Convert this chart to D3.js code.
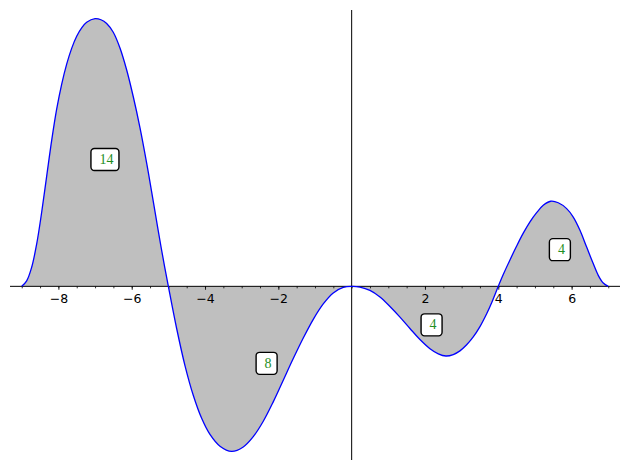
<!DOCTYPE html>
<html><head><meta charset="utf-8">
<script src="https://cdn.jsdelivr.net/npm/d3@7"></script>
<style>body{margin:0;background:#fff}</style>
</head><body>
<svg id="c" width="630" height="470"></svg>
<script>
// curve samples
const xs = [-9.00,-8.865,-8.729,-8.593,-8.456,-8.320,-8.183,-8.047,-7.911,-7.774,-7.638,-7.501,-7.365,-7.229,-7.00,
  -6.839,-6.683,-6.503,-6.320,-6.137,-5.957,-5.775,-5.592,-5.428,-5.284,-5.147,-5.00,
  -4.774,-4.547,-4.321,-4.092,-3.865,-3.592,-3.273,-2.957,-2.684,-2.411,-2.139,-1.866,-1.593,-1.320,-1.047,-0.775,-0.502,-0.229,0,
  0.226,0.499,0.772,1.045,1.318,1.590,1.863,2.136,2.363,2.572,2.772,2.954,3.137,3.317,3.500,3.683,3.819,4.00,
  4.135,4.318,4.501,4.681,4.864,5.046,5.226,5.428,5.636,5.865,6.045,6.228,6.410,6.590,6.727,6.863,7.00];
const ys = [0,0.15,0.52,1.15,2.02,3.00,3.98,4.83,5.51,6.06,6.49,6.82,7.05,7.20,7.30,
  7.27,7.17,6.93,6.50,5.90,5.17,4.33,3.36,2.41,1.56,0.78,0,
  -1.15,-2.16,-2.97,-3.60,-4.04,-4.36,-4.50,-4.38,-4.10,-3.68,-3.15,-2.56,-1.97,-1.41,-0.90,-0.48,-0.18,-0.03,0,
  -0.02,-0.11,-0.29,-0.55,-0.84,-1.15,-1.45,-1.70,-1.84,-1.90,-1.86,-1.76,-1.595,-1.38,-1.10,-0.75,-0.45,0,
  0.32,0.72,1.10,1.45,1.76,2.01,2.21,2.32,2.28,2.12,1.89,1.53,1.07,0.62,0.30,0.09,0];
const majorTicks = [-8,-6,-4,-2,2,4,6];
const minorTicks = d3.range(-9, 7.01, 0.5);
const labelTexts = ["14","8","4","4"];
const labelX = [-6.73,-2.32,2.18,5.68];
const labelY = [3.46,-2.10,-1.05,1.00];

const svg = d3.select("#c");
const xmin = d3.min(xs), xmax = d3.max(xs), ymin = d3.min(ys), ymax = d3.max(ys);
const px = (xmax - xmin) * 0.02, py = (ymax - ymin) * 0.02;
const x = d3.scaleLinear().domain([xmin - px, xmax + px]).range([10, 620]);
const y = d3.scaleLinear().domain([ymin - py, ymax + py]).range([460, 10]);

const pts = xs.map((v, i) => [v, ys[i]]);
const curve = d3.curveCatmullRom.alpha(0.5);
svg.append("path").datum(pts)
  .attr("d", d3.area().x(d => x(d[0])).y0(y(0)).y1(d => y(d[1])).curve(curve))
  .attr("fill", "#bfbfbf");

// axes
const ax = svg.append("g").attr("transform", `translate(0,${y(0)})`);
ax.call(d3.axisBottom(x).tickValues(minorTicks).tickSize(2).tickFormat(""))
  .call(g => g.select(".domain").remove());
const ax2 = svg.append("g").attr("transform", `translate(0,${y(0)})`);
ax2.call(d3.axisBottom(x).tickValues(majorTicks).tickSize(3.5).tickPadding(4.5))
  .call(g => g.select(".domain").remove());
ax2.selectAll("text").attr("font-family", "DejaVu Sans").attr("font-size", 12.5).attr("fill", "#000");
svg.selectAll(".tick line").attr("stroke", "#000").attr("stroke-width", 0.8);

svg.append("line").attr("x1", x.range()[0]).attr("x2", x.range()[1]).attr("y1", y(0)).attr("y2", y(0))
  .attr("stroke", "#000").attr("stroke-width", 1);
svg.append("line").attr("x1", x(0)).attr("x2", x(0)).attr("y1", y.range()[1]).attr("y2", y.range()[0])
  .attr("stroke", "#000").attr("stroke-width", 1);

svg.append("path").datum(pts)
  .attr("d", d3.line().x(d => x(d[0])).y(d => y(d[1])).curve(curve))
  .attr("fill", "none").attr("stroke", "#0000ff").attr("stroke-width", 1.3);

// labels
labelTexts.forEach((t, i) => {
  const g = svg.append("g").attr("transform", `translate(${x(labelX[i])},${y(labelY[i])})`);
  const rect = g.append("rect");
  const txt = g.append("text").text(t).attr("x", 1.5).attr("y", 0)
    .attr("text-anchor", "middle").attr("dominant-baseline", "central")
    .attr("font-family", "Liberation Serif, serif").attr("font-size", 14).attr("fill", "#1f8f1f");
  const w = txt.node().getComputedTextLength() + 14;
  rect.attr("x", -w / 2).attr("y", -11).attr("width", w).attr("height", 22)
    .attr("rx", 3.5).attr("fill", "#fff").attr("stroke", "#000").attr("stroke-width", 1.4);
});
</script>
</body></html>
